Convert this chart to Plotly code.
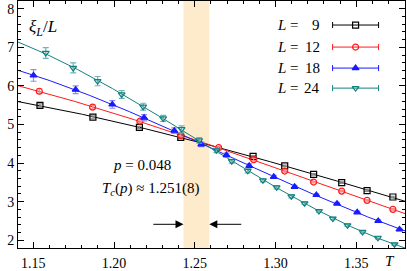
import numpy as np
import plotly.graph_objects as go

# ---- data ----
T9 = [1.1541, 1.1869, 1.2157, 1.2413, 1.2861, 1.3057, 1.3236, 1.3410, 1.3567, 1.3727]
xi9 = [5.495, 5.192, 4.925, 4.666, 4.174, 3.929, 3.709, 3.494, 3.287, 3.121]
err9 = [0.04, 0.03, 0.03, 0.03, 0.02, 0.02, 0.02, 0.02, 0.02, 0.02]

T12 = [1.1537, 1.1867, 1.2160, 1.2413, 1.2648, 1.2865, 1.3057, 1.3236, 1.3410, 1.3567, 1.3727]
xi12 = [5.862, 5.451, 5.086, 4.718, 4.400, 4.089, 3.794, 3.509, 3.274, 3.035, 2.802]
err12 = [0.06, 0.05, 0.04, 0.04, 0.03, 0.03, 0.03, 0.02, 0.02, 0.02, 0.02]

T18 = [1.1501, 1.1762, 1.1989, 1.2186, 1.2373, 1.2540, 1.2696, 1.2837, 1.2989, 1.3118,
       1.3253, 1.3381, 1.3506, 1.3636, 1.3768]
xi18 = [6.271, 5.901, 5.521, 5.176, 4.840, 4.485, 4.208, 3.929, 3.644, 3.385,
        3.173, 2.950, 2.725, 2.500, 2.280]
err18 = [0.15, 0.10, 0.10, 0.08, 0.07, 0.06, 0.05, 0.05, 0.04, 0.04,
         0.03, 0.03, 0.03, 0.03, 0.03]

T24 = [1.1577, 1.1747, 1.1898, 1.2047, 1.2180, 1.2304, 1.2418, 1.2527, 1.2634, 1.2729,
       1.2828, 1.2922, 1.3007, 1.3098, 1.3180, 1.3269, 1.3355, 1.3446, 1.3539, 1.3634, 1.3737]
xi24 = [6.854, 6.466, 6.124, 5.779, 5.461, 5.158, 4.879, 4.589, 4.330, 4.050,
        3.799, 3.553, 3.372, 3.139, 2.958, 2.756, 2.562, 2.388, 2.217, 2.065, 1.896]
err24 = [0.14, 0.13, 0.12, 0.10, 0.09, 0.08, 0.085, 0.07, 0.06, 0.05,
         0.05, 0.04, 0.04, 0.04, 0.03, 0.03, 0.03, 0.03, 0.03, 0.03, 0.03]

labels = ["9", "12", "18", "24"]
Tc, dTc = 1.251, 0.008
p_val = "0.048"

xticks = [1.15, 1.20, 1.25, 1.30, 1.35]
xticklabels = ["1.15", "1.20", "1.25", "1.30", "1.35"]
XR = [1.1405, 1.3802]
YR = [1.8, 8.2]

series = [
    (T9, xi9, err9, "black", "#8a8a8a", "square-open"),
    (T12, xi12, err12, "#ff1a1a", "#ff8c8c", "circle-open"),
    (T18, xi18, err18, "#1a1aff", "#8c8cff", "triangle-up"),
    (T24, xi24, err24, "#12807f", "#6fb5b4", "triangle-down-open"),
]

SERIF = "Liberation Serif"
fig = go.Figure()

xs = np.linspace(XR[0], XR[1], 300)
for T, v, e, col, ecol, sym in series:
    coef = np.polyfit(T, v, 3)
    fig.add_trace(go.Scatter(x=xs, y=np.polyval(coef, xs), mode="lines",
                             line=dict(color=col, width=1), showlegend=False,
                             hoverinfo="skip"))
for T, v, e, col, ecol, sym in series:
    fig.add_trace(go.Scatter(x=T, y=v, mode="markers", showlegend=False,
                             marker=dict(symbol=sym, size=6, color=col,
                                         line=dict(color=col, width=1.2)),
                             error_y=dict(type="data", array=e, visible=True,
                                          color=ecol, thickness=1.2, width=3)))

# legend samples on an overlay axis in paper-like units
rows = [0.9027, 0.8135, 0.7284, 0.6473]
for (T, v, e, col, ecol, sym), yy, lab in zip(series, rows, labels):
    fig.add_trace(go.Scatter(x=[0.8723], y=[yy], xaxis="x2", yaxis="y2",
                             mode="markers", showlegend=False,
                             marker=dict(symbol=sym, size=6, color=col,
                                         line=dict(color=col, width=1.2)),
                             error_x=dict(type="constant", value=0.0594,
                                          color=col, thickness=1, width=3)))
    fig.add_annotation(xref="paper", yref="paper", x=0.665, y=yy,
                       xanchor="left", yanchor="middle", showarrow=False,
                       text="<i>L</i> =", font=dict(family=SERIF, size=15, color="black"))
    fig.add_annotation(xref="paper", yref="paper", x=0.786, y=yy,
                       xanchor="right", yanchor="middle", showarrow=False,
                       text=lab, font=dict(family=SERIF, size=15, color="black"))

fig.add_shape(type="rect", xref="x", yref="paper", x0=Tc - dTc, x1=Tc + dTc,
              y0=0, y1=1, fillcolor="#fdebcb", line=dict(width=0), layer="below")

ya = 2.414
fig.add_annotation(x=Tc - dTc, y=ya, ax=1.2234, ay=ya, axref="x", ayref="y",
                   xref="x", yref="y", showarrow=True, arrowhead=2, arrowsize=1.6,
                   arrowwidth=1, arrowcolor="black", text="")
fig.add_annotation(x=Tc + dTc, y=ya, ax=1.2797, ay=ya, axref="x", ayref="y",
                   xref="x", yref="y", showarrow=True, arrowhead=2, arrowsize=1.6,
                   arrowwidth=1, arrowcolor="black", text="")

fig.add_annotation(xref="paper", yref="paper", x=0.2413, y=0.2967, showarrow=False,
                   text="<i>p</i> = " + p_val, font=dict(family=SERIF, size=15, color="black"))
fig.add_annotation(xref="paper", yref="paper", x=0.2116, y=0.1934, showarrow=False,
                   text="<i>T</i><sub><i>c</i></sub>(<i>p</i>) ≈ %.3f(%d)" % (Tc, round(dTc * 1000)),
                   font=dict(family=SERIF, size=15, color="black"))
fig.add_annotation(xref="paper", yref="paper", x=0.024, y=0.943, xanchor="left",
                   showarrow=False,
                   text="<i>ξ</i><sub><i>L</i></sub>/<i>L</i>",
                   font=dict(family=SERIF, size=17, color="black"))
fig.add_annotation(xref="paper", yref="paper", x=0.9806, y=-0.095, showarrow=False,
                   text="<i>T</i>", font=dict(family=SERIF, size=15, color="black"))

axcommon = dict(showline=True, linecolor="black", linewidth=1, mirror="ticks",
                ticks="inside", ticklen=6, tickcolor="black", tickwidth=1,
                showgrid=False, zeroline=False, automargin=False,
                tickfont=dict(family=SERIF, size=14, color="black"))
fig.update_layout(
    width=407, height=271,
    margin=dict(l=18, r=1.5, t=1, b=23.3, autoexpand=False),
    paper_bgcolor="white", plot_bgcolor="white",
    xaxis=dict(range=XR, tickvals=xticks, ticktext=xticklabels,
               ticklabelstandoff=2,
               minor=dict(dtick=0.01, tick0=1.15, ticks="inside", ticklen=3,
                          tickcolor="black"), **axcommon),
    yaxis=dict(range=YR, dtick=1, tick0=0,
               minor=dict(dtick=0.2, tick0=0, ticks="inside", ticklen=3,
                          tickcolor="black"), **axcommon),
    xaxis2=dict(overlaying="x", range=[0, 1], visible=False),
    yaxis2=dict(overlaying="y", range=[0, 1], visible=False),
    showlegend=False,
)
fig.write_html("out.html", config={"displayModeBar": False},
               post_script="document.body.style.margin='0';document.body.style.overflow='hidden';")
